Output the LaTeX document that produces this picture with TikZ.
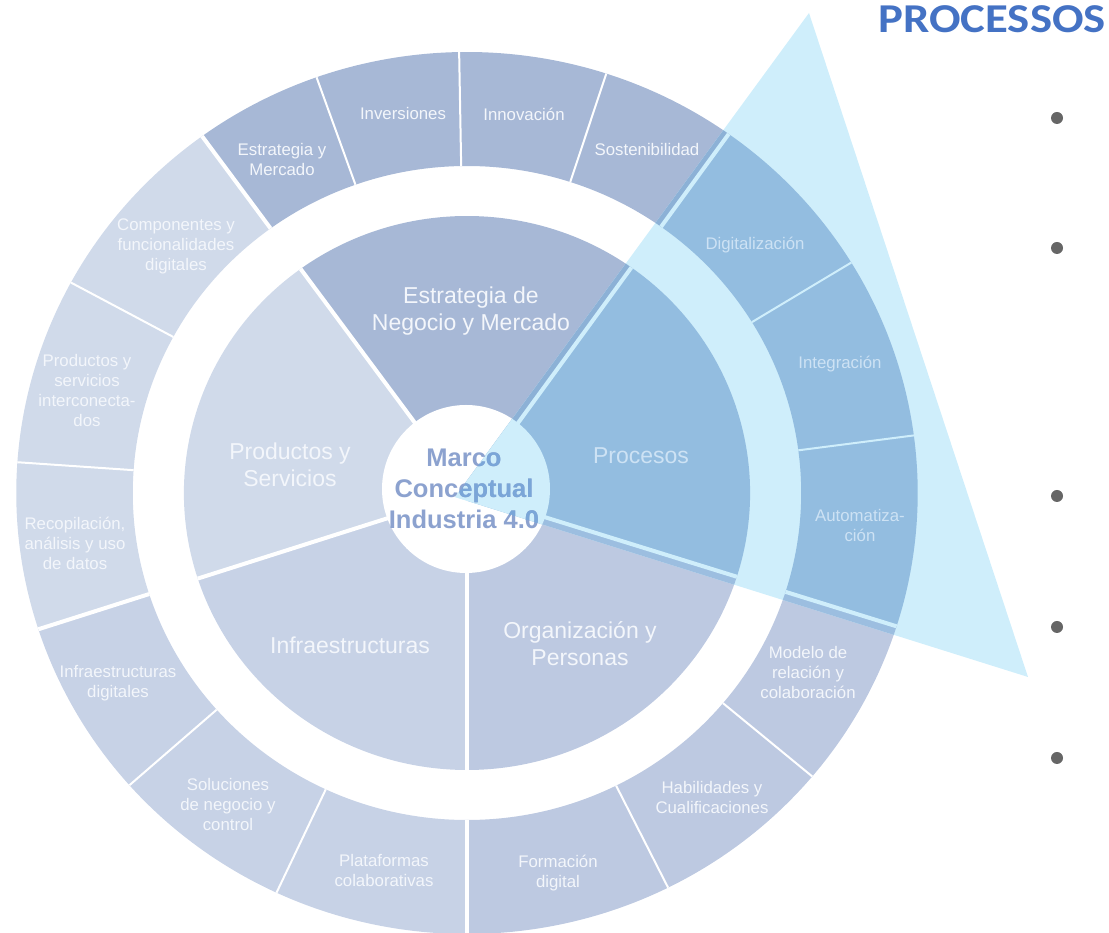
\documentclass[tikz,border=0pt]{standalone}
\usepackage{fontspec}
\setmainfont{Liberation Sans}
\newfontfamily\titlefont{Carlito}

\definecolor{estrfill}{RGB}{167,184,214}
\definecolor{prodfill}{RGB}{208,218,234}
\definecolor{infrafill}{RGB}{199,210,230}
\definecolor{orgfill}{RGB}{189,201,225}
\definecolor{procfill}{RGB}{147,189,224}
\definecolor{tricyan}{RGB}{207,238,251}
\definecolor{estrband}{RGB}{140,177,214}
\definecolor{orgband}{RGB}{156,190,224}
\definecolor{labelwhite}{RGB}{243,246,251}
\definecolor{labelproc}{RGB}{205,226,244}
\definecolor{marcotext}{RGB}{140,162,207}
\definecolor{marcoblue}{RGB}{122,166,216}
\definecolor{titleblue}{RGB}{68,114,196}
\definecolor{bulletgray}{RGB}{102,102,102}

\newcommand{\ringpiece}[4]{(#1:#3) arc[start angle=#1,end angle=#2,radius=#3] -- (#2:#4) arc[start angle=#2,end angle=#1,radius=#4] -- cycle}

\tikzset{
  inlabel/.style={text=labelwhite,align=center,font=\fontsize{23}{27}\selectfont},
  outlabel/.style={text=labelwhite,align=center,font=\fontsize{16.8}{20}\selectfont},
  hubtext/.style={text=marcotext,align=center,font=\bfseries\fontsize{25.5}{31}\selectfont},
  seam/.style={white,line width=4pt},
  thinseam/.style={white,line width=2pt},
  ringframe/.style={shift={(467,440)},xscale=1.022}
}

\begin{document}
\begin{tikzpicture}[x=1pt,y=1pt]
    \useasboundingbox (0,0) rectangle (1109,933);
    \coordinate (apex) at (455,436);
    \coordinate (tip) at (809,920);
    \coordinate (corner) at (1028,256);

    \begin{scope}[ringframe]
        \fill[estrfill]\ringpiece{54.5}{126}{0.1}{277};
        \fill[prodfill]\ringpiece{126}{198}{0.1}{277};
        \fill[infrafill]\ringpiece{198}{270}{0.1}{277};
        \fill[orgfill]\ringpiece{270}{342.4}{0.1}{277};
        \fill[estrfill]\ringpiece{54.5}{126}{327}{441};
        \fill[prodfill]\ringpiece{126}{198}{327}{441};
        \fill[infrafill]\ringpiece{198}{270}{327}{441};
        \fill[orgfill]\ringpiece{270}{342.4}{327}{441};
        \foreach \a in {54.5,126,198,270,342.4}{
            \draw[seam](\a:0)--(\a:277);
            \draw[seam](\a:327)--(\a:441);
        }
        \foreach \a in {72,91,109.5,151.5,176,221.5,245,296.5,320}
            \draw[thinseam](\a:327)--(\a:441);
    \end{scope}
    \fill[white](466,444)circle[radius=84];

    \fill[tricyan](apex)--(tip)--(corner)--cycle;
    \begin{scope}
        \clip(apex)--(tip)--(corner)--cycle;
        \begin{scope}[ringframe]
            \fill[estrband]\ringpiece{54.5}{126}{0.1}{277};
            \fill[estrband]\ringpiece{54.5}{72}{327}{441};
            \fill[orgband]\ringpiece{270}{342.4}{0.1}{277};
            \fill[orgband]\ringpiece{320}{342.4}{327}{441};
        \end{scope}
    \end{scope}
    \begin{scope}[ringframe]
        \fill[procfill]\ringpiece{-17.6}{54.5}{78}{277};
        \fill[procfill]\ringpiece{-17.6}{54.5}{327}{441};
    \end{scope}
    \begin{scope}
        \clip(apex)--(tip)--(corner)--cycle;
        \begin{scope}[ringframe]
            \foreach \a in {54.5,-17.6}{
                \draw[seam,tricyan](\a:0)--(\a:277);
                \draw[seam,tricyan](\a:327)--(\a:441);
            }
            \foreach \a in {7.5,31.5}
                \draw[thinseam,tricyan](\a:327)--(\a:441);
        \end{scope}
        \fill[tricyan](466,444)circle[radius=84];
    \end{scope}

    \node[inlabel](estrategia)at(471,622){Estrategia de\\Negocio y Mercado};
    \node[inlabel](productos)at(290,468){Productos y\\Servicios};
    \node[inlabel,text=labelproc](procesos)at(641,477){Procesos};
    \node[inlabel](infra)at(350,288){Infraestructuras};
    \node[inlabel](organizacion)at(580,289){Organización y\\Personas};

    \node[outlabel](estrmercado)at(282,773){Estrategia y\\Mercado};
    \node[outlabel](inversiones)at(403,819){Inversiones};
    \node[outlabel](innovacion)at(524,819){Innovación};
    \node[outlabel](sostenibilidad)at(647,783){Sostenibilidad};
    \node[outlabel,text=labelproc](digitalizacion)at(755,688){Digitalización};
    \node[outlabel,text=labelproc](integracion)at(840,569){Integración};
    \node[outlabel,text=labelproc](automatizacion)at(860,407){Automatiza-\\ción};
    \node[outlabel](modelo)at(808,260){Modelo de\\relación y\\colaboración};
    \node[outlabel](habilidades)at(712,135){Habilidades y\\Cualificaciones};
    \node[outlabel](formacion)at(558,60){Formación\\digital};
    \node[outlabel](plataformas)at(384,62){Plataformas\\colaborativas};
    \node[outlabel](soluciones)at(228,128){Soluciones\\de negocio y\\control};
    \node[outlabel](infradig)at(118,250){Infraestructuras\\digitales};
    \node[outlabel](recopilacion)at(75,390){Recopilación,\\análisis y uso\\de datos};
    \node[outlabel](prodserv)at(87,542){Productos y\\servicios\\interconecta-\\dos};
    \node[outlabel](componentes)at(176,687){Componentes y\\funcionalidades\\digitales};

    \node[hubtext](marco)at(464,444){Marco\\Conceptual\\Industria 4.0};
    \begin{scope}
        \clip(apex)--(tip)--(corner)--cycle;
        \node[hubtext,text=marcoblue](marcotint)at(464,444){Marco\\Conceptual\\Industria 4.0};
    \end{scope}

    \node[anchor=base east,inner sep=0,text=titleblue,font=\titlefont\bfseries\fontsize{41}{41}\selectfont](titulo)at(1106,900){\scalebox{1.14}[1]{PROCESSOS}};
    \foreach \y in {815,685,437,306,175}
        \fill[bulletgray](1057,\y)circle[radius=6];
\end{tikzpicture}
\end{document}
